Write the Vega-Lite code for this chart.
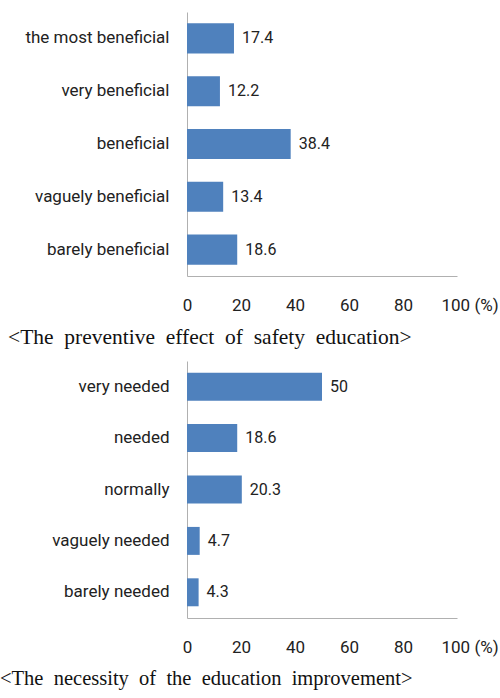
{
  "$schema": "https://vega.github.io/schema/vega-lite/v6.json",
  "padding": {"left": 0, "top": 12, "right": 2, "bottom": 5},
  "background": "white",
  "spacing": 12,
  "config": {
    "view": {"stroke": null},
    "axis": {"grid": false, "ticks": false, "domainColor": "#b0b0b0", "labelFont": "Roboto", "labelFontSize": 17, "labelColor": "#222222", "title": null},
    "title": {"font": "Liberation Serif", "fontSize": 21.5, "fontWeight": "normal", "color": "#111111"}
  },
  "vconcat": [
    {
      "width": 270,
      "height": 264,
      "title": {"text": "<The \u00a0preventive \u00a0effect \u00a0of \u00a0safety \u00a0education>", "orient": "bottom", "anchor": "start", "frame": "group", "offset": 14, "dx": -179},
      "data": {"values": [
        {"category": "the most beneficial", "value": 17.4},
        {"category": "very beneficial", "value": 12.2},
        {"category": "beneficial", "value": 38.4},
        {"category": "vaguely beneficial", "value": 13.4},
        {"category": "barely beneficial", "value": 18.6}
      ]},
      "encoding": {
        "y": {"field": "category", "type": "nominal", "sort": null, "scale": {"paddingInner": 0.43, "paddingOuter": 0.215},
              "axis": {"labelPadding": 18}},
        "x": {"field": "value", "type": "quantitative", "scale": {"domain": [0, 100]},
              "axis": {"values": [0, 20, 40, 60, 80, 100], "labelPadding": 21,
                       "labelExpr": "datum.value == 100 ? '100 (%)' : datum.label",
                       "labelAlign": {"condition": {"test": "datum.value == 100", "value": "left"}, "value": "center"},
                       "labelOffset": {"condition": {"test": "datum.value == 100", "value": -16}, "value": 0}}}
      },
      "layer": [
        {"mark": {"type": "bar", "color": "#4f81bd"}},
        {"mark": {"type": "text", "align": "left", "dx": 8, "font": "Roboto", "fontSize": 16, "color": "#222222"},
         "encoding": {"text": {"field": "value", "type": "quantitative"}}}
      ]
    },
    {
      "width": 270,
      "height": 257,
      "title": {"text": "<The \u00a0necessity \u00a0of \u00a0the \u00a0education \u00a0improvement>", "orient": "bottom", "anchor": "start", "frame": "group", "offset": 14, "dx": -187, "fontSize": 20.5},
      "data": {"values": [
        {"category": "very needed", "value": 50},
        {"category": "needed", "value": 18.6},
        {"category": "normally", "value": 20.3},
        {"category": "vaguely needed", "value": 4.7},
        {"category": "barely needed", "value": 4.3}
      ]},
      "encoding": {
        "y": {"field": "category", "type": "nominal", "sort": null, "scale": {"paddingInner": 0.456, "paddingOuter": 0.228},
              "axis": {"labelPadding": 18}},
        "x": {"field": "value", "type": "quantitative", "scale": {"domain": [0, 100]},
              "axis": {"values": [0, 20, 40, 60, 80, 100], "labelPadding": 21,
                       "labelExpr": "datum.value == 100 ? '100 (%)' : datum.label",
                       "labelAlign": {"condition": {"test": "datum.value == 100", "value": "left"}, "value": "center"},
                       "labelOffset": {"condition": {"test": "datum.value == 100", "value": -16}, "value": 0}}}
      },
      "layer": [
        {"mark": {"type": "bar", "color": "#4f81bd"}},
        {"mark": {"type": "text", "align": "left", "dx": 8, "font": "Roboto", "fontSize": 16, "color": "#222222"},
         "encoding": {"text": {"field": "value", "type": "quantitative"}}}
      ]
    }
  ]
}
